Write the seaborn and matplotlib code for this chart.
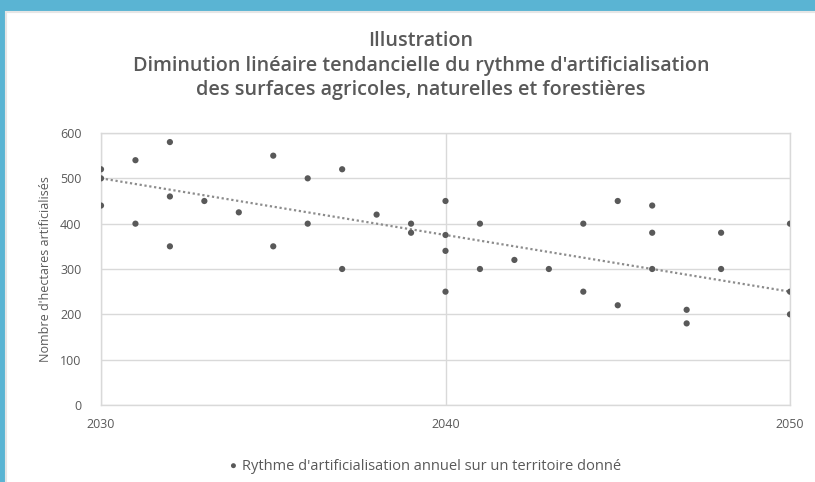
import matplotlib
matplotlib.use('Agg')
import matplotlib.pyplot as plt
from matplotlib.patches import Rectangle
import seaborn as sns
import pandas as pd

# points (year, hectares)
years = [2030, 2030, 2030, 2031, 2031, 2032, 2032, 2032, 2033, 2034,
         2035, 2035, 2036, 2036, 2037, 2037, 2038, 2039, 2039,
         2040, 2040, 2040, 2040, 2041, 2041, 2042, 2043, 2044, 2044,
         2045, 2045, 2046, 2046, 2046, 2047, 2047, 2048, 2048,
         2050, 2050, 2050]
hectares = [520, 500, 440, 540, 400, 580, 460, 350, 450, 425,
            550, 350, 500, 400, 520, 300, 420, 400, 380,
            450, 375, 340, 250, 400, 300, 320, 300, 400, 250,
            450, 220, 440, 380, 300, 210, 180, 380, 300,
            400, 250, 200]
# dotted trend line as drawn in the picture
trend_years = [2030, 2050]
trend_ha = [500, 250]
y_ticks = [0, 100, 200, 300, 400, 500, 600]
x_ticks = [2030, 2040, 2050]

title = ("Illustration\n"
         "Diminution linéaire tendancielle du rythme d'artificialisation\n"
         "des surfaces agricoles, naturelles et forestières")
series_name = "Rythme d'artificialisation annuel sur un territoire donné"

df = pd.DataFrame({"annee": years, "ha": hectares})
trend = pd.DataFrame({"annee": trend_years, "ha": trend_ha})

sns.set_style("white")
plt.rcParams['font.family'] = ['Open Sans', 'DejaVu Sans']
txt = "#595959"
grid = "#d9d9d9"

fig = plt.figure(figsize=(8.15, 4.82), dpi=100)
fig.patch.set_facecolor("#5ab4d3")
# white card inside the blue frame
fig.patches.append(Rectangle((6 / 815, -0.01), 1, 1.01 - 12 / 482, transform=fig.transFigure,
                             facecolor="white", edgecolor="#e6e6e6", linewidth=1.5, zorder=-5))

ax = fig.add_axes([101 / 815, 1 - 405 / 482, (790 - 101) / 815, (405 - 133) / 482])
ax.set_facecolor("white")

sns.lineplot(data=trend, x="annee", y="ha", ax=ax, color="#8c8c8c",
             linestyle=(0, (1, 1.2)), linewidth=1.6, legend=False)
sns.scatterplot(data=df, x="annee", y="ha", ax=ax, color=txt, s=20,
                edgecolor="none", label=series_name, zorder=3)

ax.set_xlim(2030, 2050)
ax.set_ylim(0, 600)
ax.set_xticks(x_ticks)
ax.set_yticks(y_ticks)
ax.grid(True, color=grid, linewidth=1)
ax.set_axisbelow(True)
for s in ax.spines.values():
    s.set_color(grid)
    s.set_linewidth(1)
ax.tick_params(length=0, labelsize=9, colors=txt)
ax.tick_params(axis="y", pad=14)
ax.tick_params(axis="x", pad=9)
ax.set_xlabel("")
ax.set_ylabel("Nombre d'hectares artificialisés", fontsize=9, color=txt, labelpad=6)

fig.text(421 / 815, 1 - 31 / 482, title, ha="center", va="top", fontsize=14.2,
         fontweight="semibold", color=txt, linespacing=1.3)

ax.legend_.remove()
h, l = ax.get_legend_handles_labels()
fig.legend(h, l, loc="center", bbox_to_anchor=(423 / 815, 1 - 466 / 482), frameon=False,
           fontsize=10.5, labelcolor=txt, handletextpad=0.0, handlelength=1.2,
           markerscale=0.8)

fig.savefig("out.png", dpi=100, facecolor=fig.get_facecolor())
